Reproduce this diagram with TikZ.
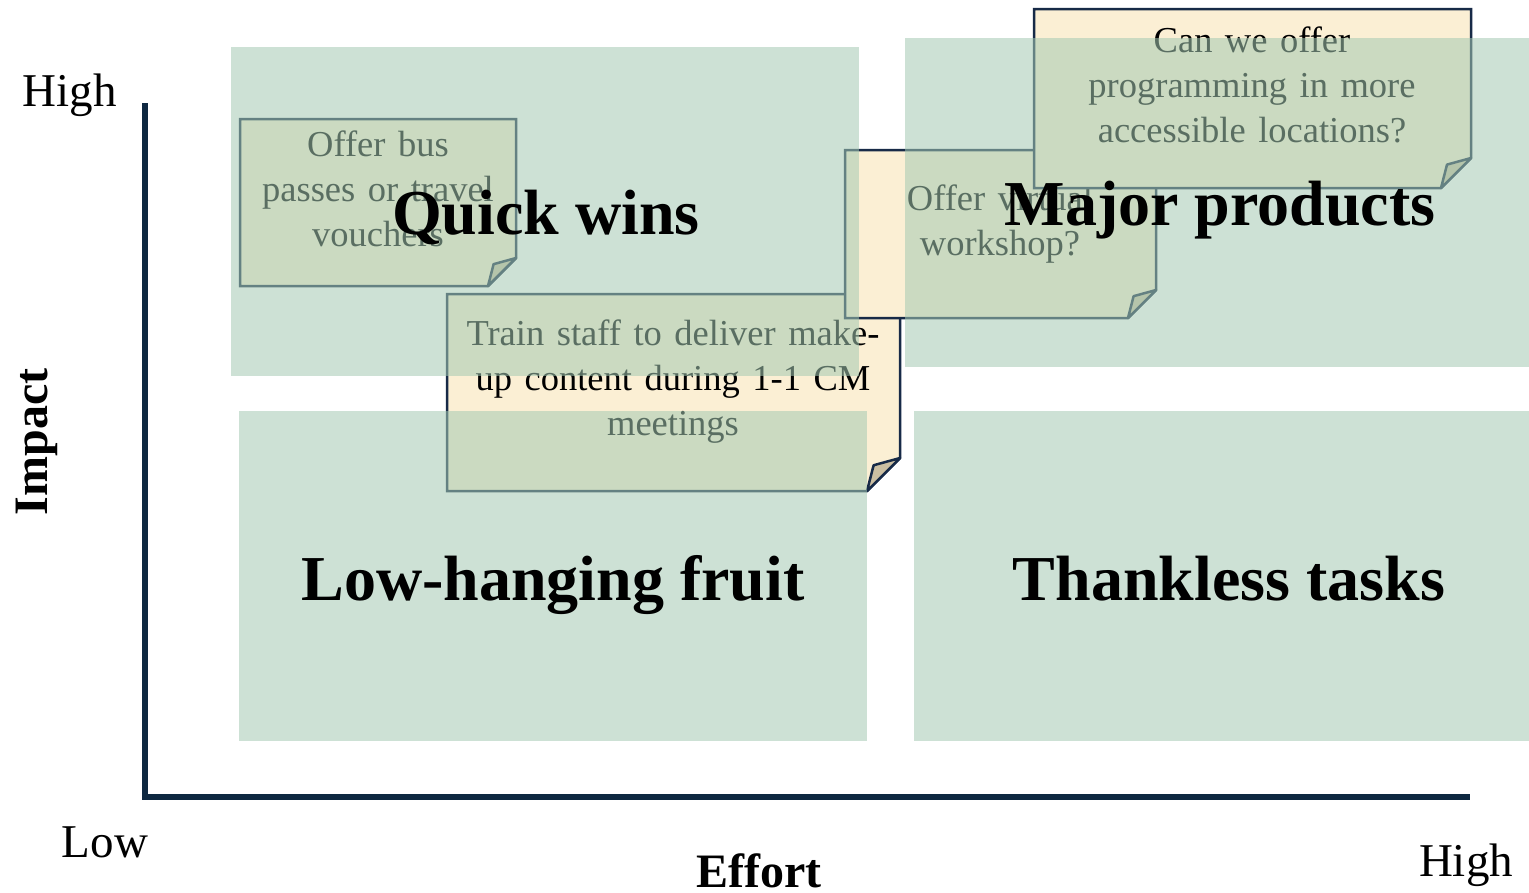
\documentclass[tikz,border=0pt]{standalone}
\usepackage{fontspec}
\setmainfont{Liberation Serif}
\definecolor{axisblue}{HTML}{0E2841}
\definecolor{noteborder}{HTML}{172A47}
\definecolor{notecream}{HTML}{FBEFD4}
\definecolor{notefoldc}{HTML}{CBBFA2}
\definecolor{quadgreen}{RGB}{164,202,179}
\newcommand\stickynote[5]{% L T R B fold
  \draw[notebody] (#1,#2) -- (#3,#2) -- (#3,#4-#5) -- (#3-#5,#4) -- (#1,#4) -- cycle;
  \draw[notefold] (#3,#4-#5) -- (#3-0.8*#5,#4-0.78*#5) -- (#3-#5,#4) -- cycle;
}
\newcommand\notelines[2]{\parbox[t]{#1}{\centering\spaceskip=12.5pt plus 2pt\relax #2}}
\begin{document}
\begin{tikzpicture}[x=1pt,y=-1pt,
  notebody/.style={draw=noteborder,fill=notecream,line width=2.5pt,line join=miter},
  notefold/.style={draw=noteborder,fill=notefoldc,line width=2.5pt,line join=round},
  notetext/.style={anchor=base,inner sep=0pt,text=black,font=\fontsize{36.5}{45}\selectfont},
  quad/.style={fill=quadgreen,fill opacity=0.55,draw=none},
  quadtitle/.style={anchor=base,inner sep=0pt,font=\fontsize{64}{70}\selectfont\bfseries},
  axislabel/.style={anchor=base,inner sep=0pt,font=\fontsize{47}{52}\selectfont},
  axistitle/.style={inner sep=0pt,font=\fontsize{48}{52}\selectfont\bfseries},
  axisline/.style={draw=axisblue,line width=6pt,line join=miter}]
\useasboundingbox (0,0) rectangle (1529,892);
\fill[white] (0,0) rectangle (1529,892);

% axes
\coordinate (ytop) at (145,103);
\coordinate (origin) at (145,797);
\coordinate (xend) at (1470,797);
\draw[axisline] (ytop) -- (origin) -- (xend);

% sticky notes
\stickynote{240}{119}{516}{286}{28}
\node[notetext] (n1) at (378,156) {\notelines{400pt}{Offer bus\\passes or travel\\vouchers}};

\stickynote{447}{294}{900}{491}{33}
\node[notetext] (n2) at (673,345) {\notelines{500pt}{Train staff to deliver make-\\up content during 1-1 CM\\meetings}};

\stickynote{845}{150}{1156}{318}{28}
\node[notetext] (n3) at (1000,210) {\notelines{400pt}{Offer virtual\\workshop?}};

\stickynote{1034}{9}{1471}{188}{30}
\node[notetext] (n4) at (1252,52) {\notelines{500pt}{Can we offer\\programming in more\\accessible locations?}};

% quadrants
\fill[quad] (231,47) rectangle (859,376);
\fill[quad] (905,38) rectangle (1529,367);
\fill[quad] (239,411) rectangle (867,741);
\fill[quad] (914,411) rectangle (1529,741);

% quadrant titles
\node[quadtitle] (qw) at (546,234) {Quick wins};
\node[quadtitle] (mp) at (1220,225) {Major products};
\node[quadtitle] (lh) at (553,600) {Low-hanging fruit};
\node[quadtitle] (tt) at (1229,600) {Thankless tasks};

% axis labels
\node[axislabel] (yhigh) at (70,106) {High};
\node[axislabel] (low) at (105,857) {Low};
\node[axislabel] (xhigh) at (1466,876) {High};
\node[axistitle,anchor=base] (effort) at (759,887) {Effort};
\node[axistitle,rotate=90] (impact) at (37,442) {Impact};
\end{tikzpicture}
\end{document}
